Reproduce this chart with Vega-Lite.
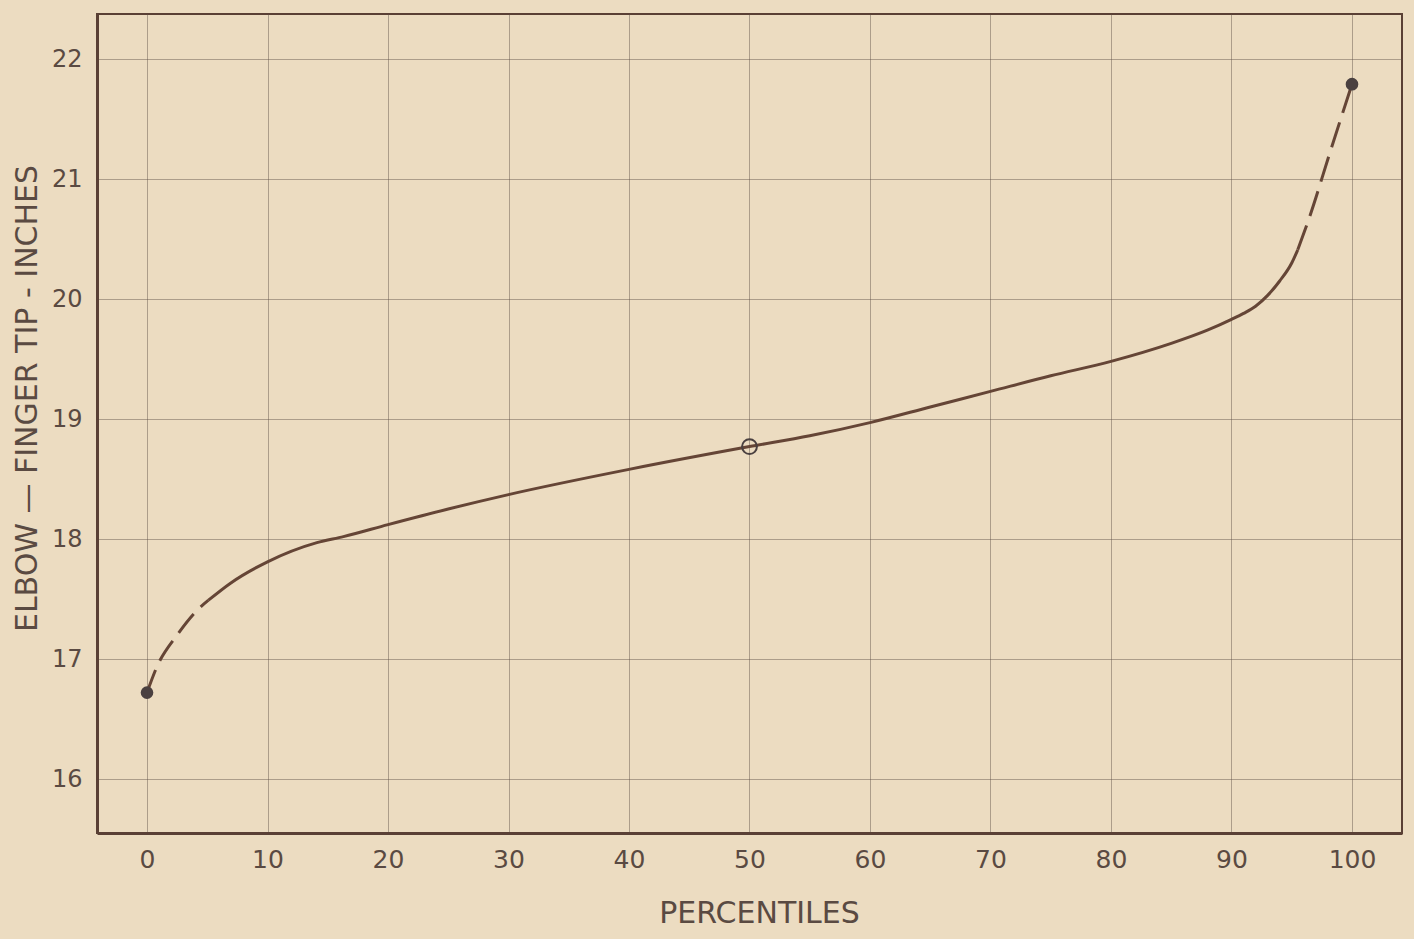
{
  "$schema": "https://vega.github.io/schema/vega-lite/v6.json",
  "autosize": "none",
  "width": 1305,
  "height": 819,
  "padding": {"left": 97, "top": 14, "right": 12, "bottom": 106},
  "background": "#ecdcc1",
  "config": {
    "view": {"stroke": "#5a4035", "strokeWidth": 2},
    "font": "DejaVu Sans",
    "axis": {
      "labelFont": "DejaVu Sans",
      "titleFont": "DejaVu Sans",
      "labelColor": "#5a4a42",
      "titleColor": "#5a4a42",
      "titleFontWeight": "normal",
      "gridColor": "#5f5048",
      "gridOpacity": 0.45,
      "gridWidth": 1,
      "domainColor": "#5a4035",
      "domainWidth": 3,
      "ticks": false
    }
  },
  "data": {
    "values": [
      {"part": "leftdash", "p": 0, "v": 16.72},
      {"part": "leftdash", "p": 0.8, "v": 16.93},
      {"part": "leftdash", "p": 2.5, "v": 17.2},
      {"part": "leftdash", "p": 4.2, "v": 17.41},
      {"part": "leftdash", "p": 5.1, "v": 17.49},
      {"part": "solid", "p": 5.1, "v": 17.49},
      {"part": "solid", "p": 6.9, "v": 17.63},
      {"part": "solid", "p": 10, "v": 17.81},
      {"part": "solid", "p": 14.1, "v": 17.97},
      {"part": "solid", "p": 16.3, "v": 18.02},
      {"part": "solid", "p": 20, "v": 18.12},
      {"part": "solid", "p": 25, "v": 18.25},
      {"part": "solid", "p": 30, "v": 18.37},
      {"part": "solid", "p": 40, "v": 18.58},
      {"part": "solid", "p": 50, "v": 18.77},
      {"part": "solid", "p": 55, "v": 18.86},
      {"part": "solid", "p": 60, "v": 18.97},
      {"part": "solid", "p": 65, "v": 19.1},
      {"part": "solid", "p": 70, "v": 19.23},
      {"part": "solid", "p": 75, "v": 19.36},
      {"part": "solid", "p": 80, "v": 19.48},
      {"part": "solid", "p": 85, "v": 19.63},
      {"part": "solid", "p": 88, "v": 19.74},
      {"part": "solid", "p": 90, "v": 19.83},
      {"part": "solid", "p": 91, "v": 19.88},
      {"part": "solid", "p": 92, "v": 19.94},
      {"part": "solid", "p": 93, "v": 20.03},
      {"part": "solid", "p": 94, "v": 20.15},
      {"part": "solid", "p": 95, "v": 20.3},
      {"part": "solid", "p": 95.5, "v": 20.41},
      {"part": "rightdash", "p": 95.5, "v": 20.41},
      {"part": "rightdash", "p": 96.5, "v": 20.69},
      {"part": "rightdash", "p": 98.2, "v": 21.23},
      {"part": "rightdash", "p": 100, "v": 21.79},
      {"part": "enddot", "p": 0, "v": 16.72},
      {"part": "enddot", "p": 100, "v": 21.79},
      {"part": "median", "p": 50, "v": 18.77}
    ]
  },
  "encoding": {
    "x": {
      "field": "p",
      "type": "quantitative",
      "scale": {"domain": [-4.15, 104.15], "nice": false, "zero": false},
      "axis": {
        "values": [0, 10, 20, 30, 40, 50, 60, 70, 80, 90, 100],
        "grid": true,
        "labelFontSize": 25,
        "labelPadding": 14,
        "title": "PERCENTILES",
        "titleFontSize": 30,
        "titleBaseline": "alphabetic",
        "titleAlign": "center",
        "titleX": 662,
        "titleY": 89
      }
    },
    "y": {
      "field": "v",
      "type": "quantitative",
      "scale": {"domain": [15.55, 22.375], "nice": false, "zero": false},
      "axis": {
        "values": [16, 17, 18, 19, 20, 21, 22],
        "grid": true,
        "labelFontSize": 24,
        "labelPadding": 15,
        "labelBaseline": "middle",
        "title": "ELBOW — FINGER TIP - INCHES",
        "titleFontSize": 30,
        "titleAngle": 270,
        "titleBaseline": "middle",
        "titleAlign": "center",
        "titleX": -70,
        "titleY": 384
      }
    }
  },
  "layer": [
    {
      "transform": [{"filter": "datum.part === 'solid'"}],
      "mark": {"type": "line", "interpolate": "monotone", "color": "#654536", "strokeWidth": 3}
    },
    {
      "transform": [{"filter": "datum.part === 'leftdash'"}],
      "mark": {"type": "line", "interpolate": "monotone", "color": "#654536", "strokeWidth": 3, "strokeDash": [24, 10]}
    },
    {
      "transform": [{"filter": "datum.part === 'rightdash'"}],
      "mark": {"type": "line", "interpolate": "monotone", "color": "#654536", "strokeWidth": 3, "strokeDash": [26, 10]}
    },
    {
      "transform": [{"filter": "datum.part === 'enddot'"}],
      "mark": {"type": "point", "filled": true, "color": "#4a4040", "size": 160, "opacity": 1}
    },
    {
      "transform": [{"filter": "datum.part === 'median'"}],
      "mark": {"type": "point", "filled": false, "color": "#4a4040", "size": 220, "strokeWidth": 2, "opacity": 1}
    }
  ]
}
